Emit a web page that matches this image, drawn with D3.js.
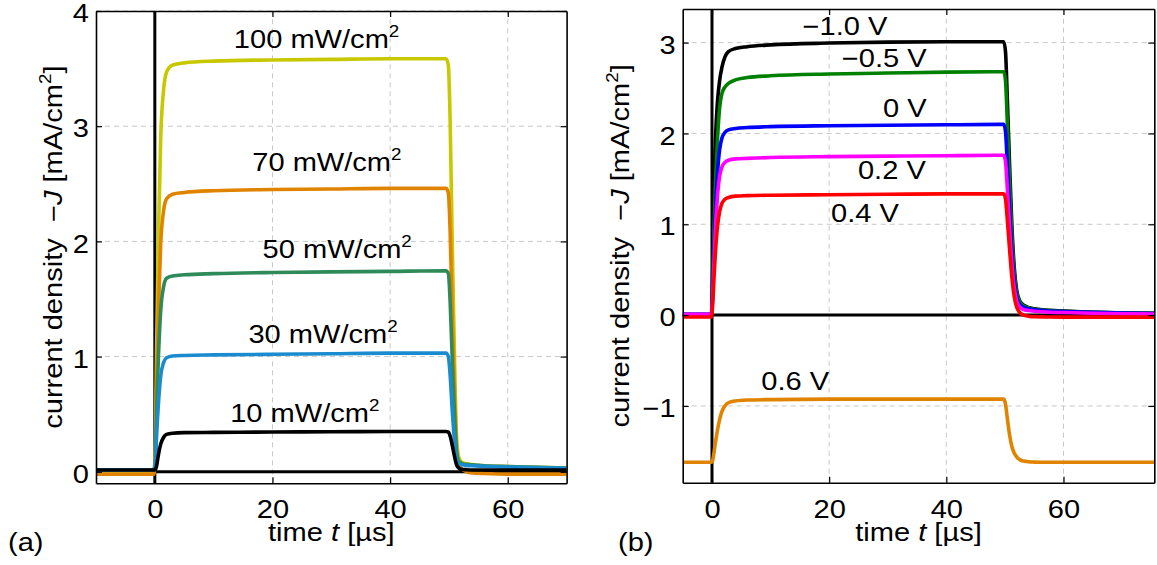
<!DOCTYPE html>
<html><head><meta charset="utf-8">
<script src="https://cdn.jsdelivr.net/npm/d3@7"></script>
<style>
html,body{margin:0;padding:0;background:#fff;}
svg{display:block;}
text{font-family:"Liberation Sans",Arial,Helvetica,sans-serif;white-space:pre;}
</style>
</head><body>
<svg id="chart" width="1157" height="565"></svg>
<script>
// ---------------- DATA ----------------
// Panel (a): time points [µs]
const timeA = [-10, -0.2, 0.1, 0.3, 0.6, 1.0, 1.5, 2.0, 3, 5, 10, 20, 30, 40, 49.5, 49.9, 50.2, 50.6, 51.0, 51.3, 51.7, 52.3, 53, 54, 56, 60, 65, 70];
const intensityLabels = ["100", "70", "50", "30", "10"];
const jA100 = [-0.02, -0.02, 0.19, 1.05, 2.01, 2.90, 3.32, 3.47, 3.53, 3.55, 3.565, 3.575, 3.58, 3.585, 3.585, 3.53, 3.05, 1.87, 0.86, 0.30, 0.12, 0.08, 0.07, 0.06, 0.052, 0.045, 0.038, 0.032];
const jA70  = [-0.02, -0.02, 0.13, 0.72, 1.38, 1.98, 2.27, 2.37, 2.41, 2.425, 2.44, 2.45, 2.455, 2.46, 2.46, 2.42, 2.09, 1.28, 0.58, 0.20, 0.06, 0.02, 0.0, -0.01, -0.015, -0.02, -0.02, -0.02];
const jA50  = [0.015, 0.015, 0.11, 0.52, 0.98, 1.40, 1.61, 1.68, 1.70, 1.71, 1.72, 1.73, 1.735, 1.74, 1.745, 1.72, 1.48, 0.92, 0.44, 0.17, 0.09, 0.07, 0.065, 0.06, 0.052, 0.045, 0.038, 0.032];
const jA30  = [0.015, 0.015, 0.07, 0.31, 0.58, 0.83, 0.95, 0.99, 1.005, 1.01, 1.015, 1.02, 1.025, 1.03, 1.03, 1.0, 0.84, 0.50, 0.24, 0.11, 0.07, 0.06, 0.055, 0.052, 0.048, 0.042, 0.036, 0.03];
const jA10  = [0.015, 0.015, 0.02, 0.05, 0.145, 0.24, 0.30, 0.325, 0.335, 0.34, 0.342, 0.345, 0.347, 0.35, 0.35, 0.345, 0.31, 0.22, 0.12, 0.06, 0.03, 0.02, 0.018, 0.016, 0.015, 0.015, 0.015, 0.015];
// label anchors (data coordinates: time, current density)
const labelA_t = [27.5, 29.25, 31, 28.6, 25.5];
const labelA_J = [3.68, 2.61, 1.855, 1.116, 0.435];

// Panel (b): time points [µs]
const timeB = [-5, -0.1, 0.15, 0.35, 0.6, 0.95, 1.3, 1.7, 2.2, 2.8, 4, 6, 10, 20, 30, 40, 49.8, 50.1, 50.4, 50.8, 51.2, 51.6, 52.0, 52.5, 53.2, 54, 55, 57, 60, 65, 70, 75.5];
const biasLabels = ["\u22121.0 V", "\u22120.5 V", "0 V", "0.2 V", "0.4 V", "0.6 V"];
const jBm10 = [0.005, 0.005, 0.6, 1.4, 1.95, 2.36, 2.58, 2.73, 2.84, 2.90, 2.935, 2.955, 2.975, 2.995, 3.005, 3.01, 3.01, 2.90, 2.40, 1.65, 0.97, 0.52, 0.28, 0.16, 0.11, 0.085, 0.07, 0.055, 0.045, 0.032, 0.025, 0.02];
const jBm05 = [0.005, 0.005, 0.4, 0.95, 1.45, 1.95, 2.28, 2.44, 2.51, 2.55, 2.59, 2.615, 2.635, 2.655, 2.665, 2.675, 2.68, 2.58, 2.14, 1.47, 0.86, 0.46, 0.25, 0.15, 0.10, 0.08, 0.065, 0.052, 0.042, 0.03, 0.024, 0.02];
const jB00  = [0.01, 0.01, 0.30, 0.72, 1.15, 1.58, 1.82, 1.95, 2.01, 2.04, 2.055, 2.065, 2.075, 2.085, 2.09, 2.095, 2.10, 2.02, 1.68, 1.15, 0.68, 0.37, 0.20, 0.12, 0.085, 0.07, 0.06, 0.048, 0.04, 0.03, 0.022, 0.018];
const jB02  = [0.01, 0.01, 0.25, 0.60, 0.97, 1.32, 1.53, 1.63, 1.68, 1.705, 1.72, 1.725, 1.735, 1.745, 1.75, 1.755, 1.76, 1.69, 1.41, 0.96, 0.56, 0.30, 0.16, 0.09, 0.06, 0.05, 0.042, 0.035, 0.028, 0.02, 0.015, 0.012];
const jB04  = [-0.02, -0.02, 0.15, 0.42, 0.70, 0.98, 1.14, 1.23, 1.275, 1.295, 1.31, 1.315, 1.32, 1.325, 1.33, 1.335, 1.335, 1.28, 1.06, 0.72, 0.41, 0.20, 0.09, 0.03, 0.0, -0.012, -0.018, -0.02, -0.022, -0.022, -0.022, -0.022];
const jB06  = [-1.62, -1.62, -1.59, -1.51, -1.40, -1.26, -1.15, -1.06, -1.0, -0.965, -0.945, -0.935, -0.93, -0.925, -0.925, -0.925, -0.925, -0.98, -1.13, -1.32, -1.45, -1.52, -1.56, -1.59, -1.607, -1.615, -1.618, -1.62, -1.62, -1.62, -1.62, -1.62];
const labelB_t = [22.7, 29.4, 32.9, 30.7, 26.1, 14.2];
const labelB_J = [3.08, 2.73, 2.18, 1.50, 1.03, -0.826];

// tick values
const xTicksA = [0, 20, 40, 60];
const yTicksA = [0, 1, 2, 3, 4];
const xTicksB = [0, 20, 40, 60];
const yTicksB = [-1, 0, 1, 2, 3];

// ---------------- DRAWING ----------------
const svg = d3.select("#chart");
const FS = 25.5, SX = 1.14;
const FONT = '"Liberation Sans",Arial,Helvetica,sans-serif';
const fmt = d3.format("d");

// parts: [{t:"text", i:italic, sup:true}]
function addText(x, y, parts, anchor, rot) {
  const g = svg.append("g").attr("transform", `translate(${x},${y})` + (rot ? ` rotate(${rot})` : ""));
  const t = g.append("text").attr("transform", `scale(${SX},1)`)
    .attr("text-anchor", anchor || "start").attr("font-size", FS).attr("fill", "#000")
    .attr("xml:space", "preserve");
  let raised = false;
  parts.forEach(p => {
    const ts = t.append("tspan").text(p.t);
    if (p.i) ts.attr("font-style", "italic");
    if (p.sup) { ts.attr("font-size", 16.5).attr("dy", -11); raised = true; }
    else if (raised) { ts.attr("dy", 11); raised = false; }
  });
  return t;
}

function panel(o) {
  const x = d3.scaleLinear().domain(o.xd).range(o.xr);
  const y = d3.scaleLinear().domain(o.yd).range(o.yr);
  const g = svg.append("g");
  const clipId = "clip" + o.id;
  svg.append("clipPath").attr("id", clipId).append("rect")
    .attr("x", o.xr[0]).attr("y", o.yr[1]).attr("width", o.xr[1] - o.xr[0]).attr("height", o.yr[0] - o.yr[1]);

  // grid
  g.append("g").selectAll("line").data(o.xt.filter(d => d !== 0)).join("line")
    .attr("x1", d => x(d)).attr("x2", d => x(d)).attr("y1", o.yr[0]).attr("y2", o.yr[1])
    .attr("stroke", "#c8c8c8").attr("stroke-width", 1).attr("stroke-dasharray", "5,4");
  g.append("g").selectAll("line").data(o.yt).join("line")
    .attr("x1", o.xr[0]).attr("x2", o.xr[1]).attr("y1", d => y(d)).attr("y2", d => y(d))
    .attr("stroke", "#c8c8c8").attr("stroke-width", 1).attr("stroke-dasharray", "5,4");

  // black reference lines
  g.append("line").attr("x1", x(0)).attr("x2", x(0)).attr("y1", o.yr[0]).attr("y2", o.yr[1])
    .attr("stroke", "#000").attr("stroke-width", 3);
  g.append("line").attr("x1", x(0)).attr("x2", o.xr[1]).attr("y1", y(0)).attr("y2", y(0))
    .attr("stroke", "#000").attr("stroke-width", 3);

  // curves
  const line = d3.line().x((d, i) => x(o.t[i])).y(d => y(d)).curve(d3.curveMonotoneX);
  const cg = g.append("g").attr("clip-path", `url(#${clipId})`);
  o.series.forEach(s => {
    cg.append("path").attr("d", line(s.v)).attr("fill", "none")
      .attr("stroke", s.c).attr("stroke-width", 3.6).attr("stroke-linejoin", "round");
  });

  // axes
  const styleAxis = sel => {
    sel.attr("font-size", FS).attr("font-family", FONT);
    sel.select(".domain").attr("stroke", "#000").attr("stroke-width", 1.6);
    sel.selectAll(".tick line").attr("stroke", "#000").attr("stroke-width", 1.2);
    sel.selectAll(".tick text").attr("fill", "#000");
  };
  const bx = g.append("g").attr("transform", `translate(0,${o.yr[0]})`)
    .call(d3.axisBottom(x).tickValues(o.xt).tickFormat(fmt).tickSizeInner(-6).tickSizeOuter(0).tickPadding(17));
  styleAxis(bx);
  bx.selectAll(".tick text").attr("transform", `scale(${SX},1)`);
  const tx = g.append("g").attr("transform", `translate(0,${o.yr[1]})`)
    .call(d3.axisTop(x).tickValues(o.xt).tickSizeInner(-6).tickSizeOuter(0).tickFormat(() => ""));
  styleAxis(tx);
  const ly = g.append("g").attr("transform", `translate(${o.xr[0]},0)`)
    .call(d3.axisLeft(y).tickValues(o.yt).tickFormat(fmt).tickSizeInner(-6).tickSizeOuter(0).tickPadding(6.2));
  styleAxis(ly);
  ly.selectAll(".tick text").attr("transform", `scale(${SX},1)`).attr("dy", "0.42em");
  const ry = g.append("g").attr("transform", `translate(${o.xr[1]},0)`)
    .call(d3.axisRight(y).tickValues(o.yt).tickSizeInner(-6).tickSizeOuter(0).tickFormat(() => ""));
  styleAxis(ry);

  // curve labels
  o.labels.forEach(l => addText(x(l.t), y(l.J), l.parts, "middle"));

  // axis titles
  const cx = (o.xr[0] + o.xr[1]) / 2, cy = (o.yr[0] + o.yr[1]) / 2;
  addText(cx, 541, [{t: "time "}, {t: "t", i: true}, {t: " [\u00b5s]"}], "middle");
  addText(o.ylx, cy, [{t: "current density  \u2212"}, {t: "J", i: true}, {t: " [mA/cm"}, {t: "2", sup: true}, {t: "]"}], "middle", -90);
  addText(o.tagx, 551, [{t: o.tag}], "start");
}

const seriesA = [
  {v: jA100, c: "#c8c800"},
  {v: jA70,  c: "#e08400"},
  {v: jA50,  c: "#2f8a5a"},
  {v: jA30,  c: "#1b8bd0"},
  {v: jA10,  c: "#000000"}
];
panel({
  id: "a", xd: [-10, 70], xr: [96, 566.6], yd: [-0.1, 4], yr: [483.3, 11],
  xt: xTicksA, yt: yTicksA, t: timeA, series: seriesA,
  labels: intensityLabels.map((s, i) => ({t: labelA_t[i], J: labelA_J[i], parts: [{t: s + " mW/cm"}, {t: "2", sup: true}]})),
  ylx: 61.5, tag: "(a)", tagx: 8
});

const seriesB = [
  {v: jBm10, c: "#000000"},
  {v: jBm05, c: "#008000"},
  {v: jB00,  c: "#0000ff"},
  {v: jB02,  c: "#ff00ff"},
  {v: jB04,  c: "#ff0000"},
  {v: jB06,  c: "#e08400"}
];
panel({
  id: "b", xd: [-5, 75.5], xr: [682.7, 1154.3], yd: [-1.845, 3.37], yr: [482.7, 9],
  xt: xTicksB, yt: yTicksB, t: timeB, series: seriesB,
  labels: biasLabels.map((s, i) => ({t: labelB_t[i], J: labelB_J[i], parts: [{t: s}]})),
  ylx: 629, tag: "(b)", tagx: 618
});
</script>
</body></html>
